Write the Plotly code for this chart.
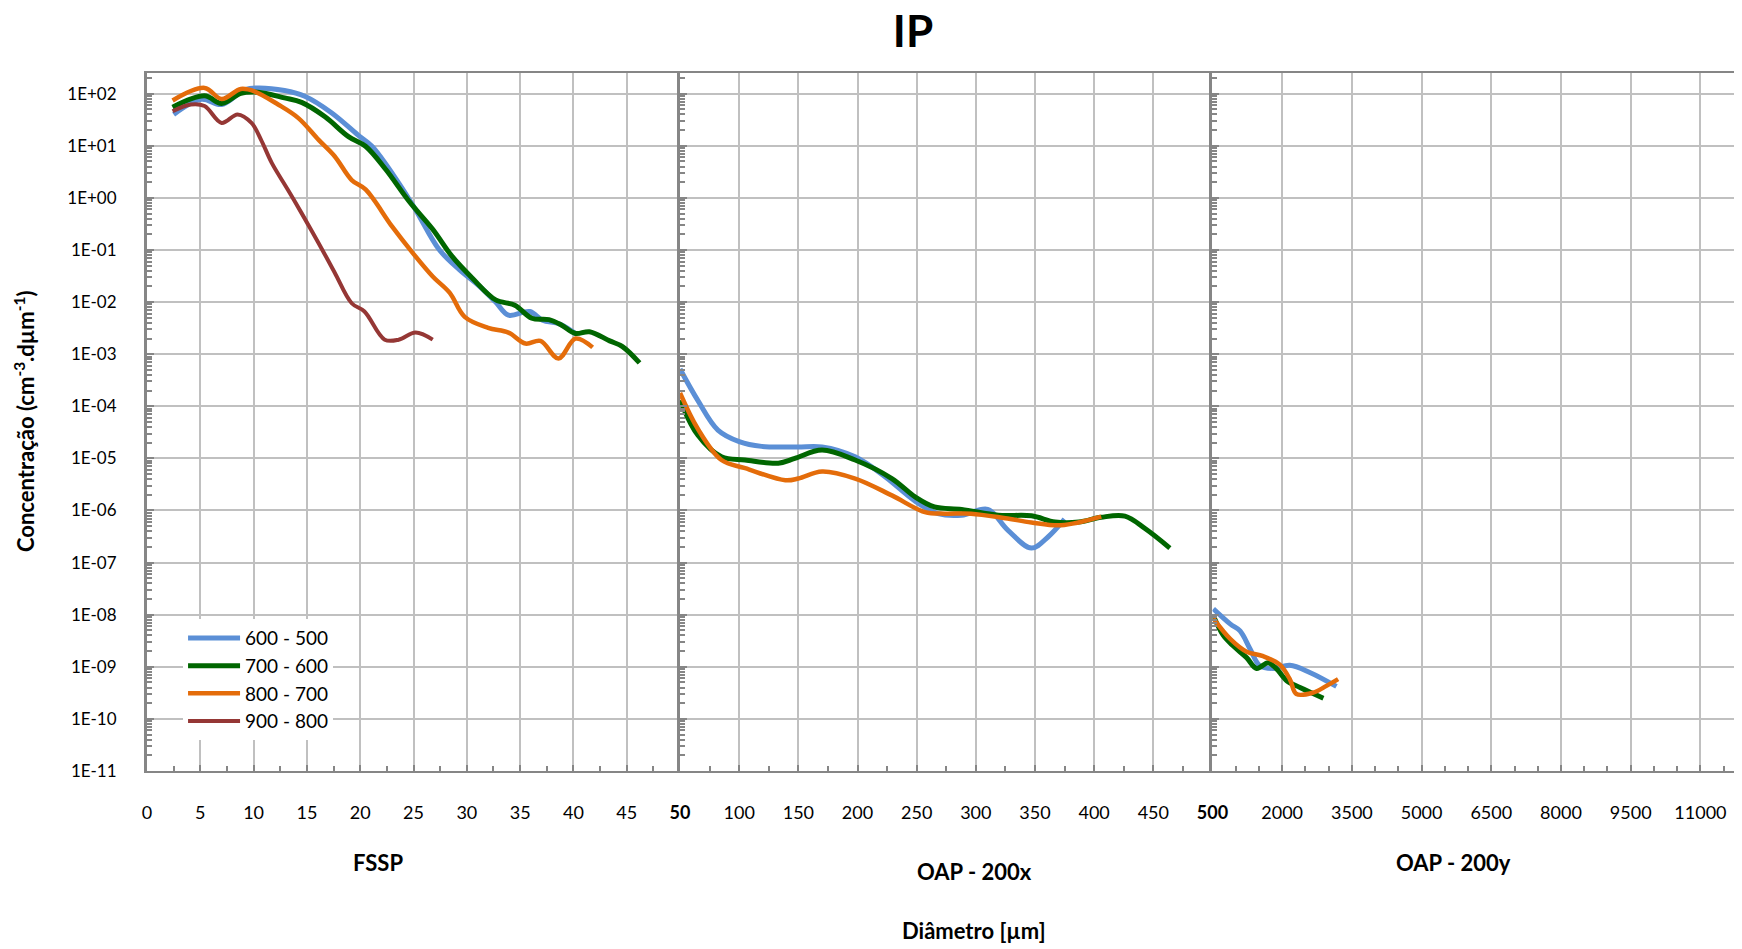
import plotly.graph_objects as go

# ---- data (diameter in um, concentration in cm-3.dum-1) ----
series_names = ["600 - 500", "700 - 600", "800 - 700", "900 - 800"]
series_colors = ["#5B8FD6", "#006600", "#E46C0A", "#953735"]
series_widths = [5, 5, 4.5, 4]

# FSSP panel (0 - 50 um)
fssp_d_600 = [2.5, 5.1, 7.0, 9.2, 10.4, 12.9, 14.8, 17.3, 19.8, 21.1, 23.6, 25.2, 27.4, 29.3, 31.2, 32.7, 33.9, 35.9, 37.1, 38.7, 40.3]
fssp_c_600 = [4.0e1, 7.8e1, 6.2e1, 1.2e2, 1.29e2, 1.15e2, 8.9e1, 4.3e1, 1.6e1, 9.8e0, 1.95e0, 5.9e-1, 1.02e-1, 4.2e-2, 2.0e-2, 1.0e-2, 5.6e-3, 6.6e-3, 4.5e-3, 3.8e-3, 2.4e-3]
fssp_d_700 = [2.4, 5.4, 7.0, 8.8, 10.4, 12.9, 14.5, 16.7, 18.9, 20.5, 22.4, 24.6, 26.8, 28.6, 30.5, 32.7, 34.5, 36.1, 37.7, 38.9, 40.2, 41.5, 43.4, 44.6, 46.2]
fssp_c_700 = [5.5e1, 9.1e1, 6.5e1, 1.02e2, 1.07e2, 8.3e1, 6.8e1, 3.6e1, 1.5e1, 9.8e0, 3.5e0, 8.5e-1, 2.5e-1, 7.6e-2, 2.9e-2, 1.1e-2, 8.7e-3, 4.9e-3, 4.6e-3, 3.6e-3, 2.5e-3, 2.7e-3, 1.8e-3, 1.4e-3, 6.8e-4]
fssp_d_800 = [2.4, 5.4, 7.0, 8.8, 10.1, 12.3, 14.2, 16.1, 17.6, 19.2, 20.5, 23.0, 24.9, 26.8, 28.4, 29.8, 32.0, 33.9, 35.5, 36.9, 38.6, 40.2, 41.8]
fssp_c_800 = [7.4e1, 1.29e2, 7.9e1, 1.23e2, 1.1e2, 6.2e1, 3.4e1, 1.3e1, 6.3e0, 2.2e0, 1.45e0, 2.8e-1, 8.9e-2, 3.1e-2, 1.5e-2, 5.2e-3, 3.2e-3, 2.6e-3, 1.6e-3, 1.8e-3, 8.3e-4, 2.0e-3, 1.35e-3]
fssp_d_900 = [2.4, 4.1, 5.4, 7.0, 8.5, 9.8, 10.7, 11.7, 13.2, 14.5, 16.1, 17.6, 19.2, 20.4, 22.3, 23.6, 25.2, 26.8]
fssp_c_900 = [4.6e1, 6.2e1, 5.8e1, 2.75e1, 4.0e1, 2.75e1, 1.3e1, 4.7e0, 1.45e0, 5.1e-1, 1.35e-1, 3.7e-2, 9.5e-3, 6.6e-3, 1.9e-3, 1.9e-3, 2.6e-3, 1.9e-3]

# OAP-200x panel (50 - 500 um)
oapx_d_600 = [50, 65, 82, 100, 119, 149, 170, 198, 223, 249, 268, 288, 310, 327, 347, 361, 375]
oapx_c_600 = [5.2e-4, 1.3e-4, 3.5e-5, 2.1e-5, 1.7e-5, 1.66e-5, 1.66e-5, 1.07e-5, 4.5e-6, 1.5e-6, 8.7e-7, 8.1e-7, 1.05e-6, 4.2e-7, 1.9e-7, 3.1e-7, 6.8e-7]
oapx_d_700 = [50, 65, 85, 105, 133, 147, 170, 198, 229, 249, 265, 288, 319, 347, 367, 387, 406, 426, 443, 464]
oapx_c_700 = [1.3e-4, 2.8e-5, 1.07e-5, 9.3e-6, 8.1e-6, 1.0e-5, 1.45e-5, 9.3e-6, 4.1e-6, 1.8e-6, 1.17e-6, 1.05e-6, 8.1e-7, 7.9e-7, 6.0e-7, 6.0e-7, 7.4e-7, 7.8e-7, 4.5e-7, 1.9e-7]
oapx_d_800 = [50, 65, 85, 105, 139, 150, 170, 198, 229, 257, 274, 296, 325, 347, 372, 406]
oapx_c_800 = [1.8e-4, 3.7e-5, 9.3e-6, 6.5e-6, 3.8e-6, 4.1e-6, 5.6e-6, 4.1e-6, 1.95e-6, 9.3e-7, 8.7e-7, 8.7e-7, 7.1e-7, 5.9e-7, 5.2e-7, 7.6e-7]

# OAP-200y panel (500 um and up)
oapy_d_600 = [518, 887, 1094, 1310, 1518, 1805, 2164, 2595, 3168]
oapy_c_600 = [1.3e-8, 6.6e-9, 4.9e-9, 2.2e-9, 1.05e-9, 9.3e-10, 1.07e-9, 7.8e-10, 4.2e-10]
oapy_d_700 = [518, 734, 950, 1235, 1450, 1701, 1880, 2098, 2384, 2887]
oapy_c_700 = [9.5e-9, 4.0e-9, 2.5e-9, 1.5e-9, 9.3e-10, 1.2e-9, 9.1e-10, 5.4e-10, 4.0e-10, 2.5e-10]
oapy_d_800 = [518, 887, 1235, 1590, 1950, 2164, 2307, 2666, 2953, 3204]
oapy_c_800 = [8.5e-9, 3.4e-9, 1.95e-9, 1.6e-9, 1.1e-9, 5.8e-10, 3.0e-10, 3.2e-10, 4.3e-10, 5.8e-10]

y_tick_vals = [1e2, 1e1, 1e0, 1e-1, 1e-2, 1e-3, 1e-4, 1e-5, 1e-6, 1e-7, 1e-8, 1e-9, 1e-10, 1e-11]
y_tick_text = ["1E+02", "1E+01", "1E+00", "1E-01", "1E-02", "1E-03", "1E-04", "1E-05",
               "1E-06", "1E-07", "1E-08", "1E-09", "1E-10", "1E-11"]

fssp_ticks = [0, 5, 10, 15, 20, 25, 30, 35, 40, 45]
oapx_ticks = [50, 100, 150, 200, 250, 300, 350, 400, 450]
oapy_ticks = [500, 2000, 3500, 5000, 6500, 8000, 9500, 11000]

FONT = "Candara, Lato, 'Open Sans', sans-serif"
AXIS_GREY = "#868686"
GRID_GREY = "#c0c0c0"

# the page body adds an 8 px margin, so the figure is laid out 8 px smaller
W, H = 1734, 941
ML, MT, MB = 139, 65, 178
PLOT_W = W - ML

panels = [
    ("x", "y", [(fssp_d_600, fssp_c_600), (fssp_d_700, fssp_c_700), (fssp_d_800, fssp_c_800), (fssp_d_900, fssp_c_900)]),
    ("x2", "y2", [(oapx_d_600, oapx_c_600), (oapx_d_700, oapx_c_700), (oapx_d_800, oapx_c_800)]),
    ("x3", "y3", [(oapy_d_600, oapy_c_600), (oapy_d_700, oapy_c_700), (oapy_d_800, oapy_c_800)]),
]

fig = go.Figure()
for p, (xa, ya, curves) in enumerate(panels):
    for i, (d, c) in enumerate(curves):
        fig.add_trace(go.Scatter(
            x=d, y=c, xaxis=xa, yaxis=ya, mode="lines",
            name=series_names[i], legendgroup=series_names[i], showlegend=(p == 0),
            line=dict(color=series_colors[i], width=series_widths[i], shape="spline", smoothing=1.0),
        ))

# minor tick positions on the log axis (2..9 of each decade)
y_minor = [k * 10.0 ** n for n in range(-11, 3) for k in range(2, 10)]


def yaxis_style(anchor, labels):
    return dict(
        type="log", anchor=anchor, range=[-11, 2.397], domain=[0, 1],
        tickvals=y_tick_vals, ticktext=y_tick_text, showticklabels=labels,
        ticks="inside", ticklen=7, tickwidth=2, tickcolor=AXIS_GREY,
        minor=dict(tickvals=y_minor, ticks="inside", ticklen=5, tickwidth=1.5, tickcolor=AXIS_GREY, showgrid=False),
        showline=True, linecolor=AXIS_GREY, linewidth=3,
        showgrid=True, gridcolor=GRID_GREY, gridwidth=2, zeroline=False,
        tickfont=dict(family=FONT, size=17, color="#000000"), ticklabelstandoff=24,
    )


def xaxis_style(anchor, domain, rng, vals, text, minor_dtick):
    return dict(
        anchor=anchor, domain=domain, range=rng,
        tickvals=vals, ticktext=text,
        ticks="inside", ticklen=6, tickwidth=2, tickcolor=AXIS_GREY,
        minor=dict(dtick=minor_dtick, ticks="inside", ticklen=5, tickwidth=1.5, tickcolor=AXIS_GREY, showgrid=False),
        showline=True, linecolor=AXIS_GREY, linewidth=2, mirror=True,
        showgrid=True, gridcolor=GRID_GREY, gridwidth=2, zeroline=False,
        tickfont=dict(family=FONT, size=18, color="#000000"), ticklabelstandoff=24,
    )


def label(text, x, y, size=22):
    return dict(text=text, x=x, y=y, xref="paper", yref="paper", showarrow=False,
                xanchor="center", yanchor="middle", font=dict(family=FONT, size=size, color="#000000"))


fig.update_layout(
    width=W, height=H,
    margin=dict(l=ML, r=0, t=MT, b=MB),
    paper_bgcolor="white", plot_bgcolor="white",
    font=dict(family=FONT, color="#000000"),
    title=dict(text="<b>IP</b>", x=905 / W, y=1 - 24 / H, xanchor="center", yanchor="middle",
               font=dict(family=FONT, size=44, color="#000000")),
    xaxis=xaxis_style("y", [0, 0.3342], [0, 50], fssp_ticks, [str(v) for v in fssp_ticks], 2.5),
    xaxis2=xaxis_style("y2", [0.3342, 0.668], [50, 500], oapx_ticks,
                       ["<b>50</b>"] + [str(v) for v in oapx_ticks[1:]], 25),
    xaxis3=xaxis_style("y3", [0.668, 1.0], [500, 11895], oapy_ticks,
                       ["<b>500</b>"] + [str(v) for v in oapy_ticks[1:]], 500),
    yaxis=yaxis_style("x", True),
    yaxis2=yaxis_style("x2", False),
    yaxis3=yaxis_style("x3", False),
    legend=dict(x=0.0226, y=0.2176, xanchor="left", yanchor="top", bgcolor="white",
                font=dict(family=FONT, size=19, color="#000000"), itemwidth=52, tracegroupgap=0),
    annotations=[
        label("<b>FSSP</b>", 0.1448, -0.1318),
        label("<b>OAP - 200x</b>", 0.519, -0.1433),
        label("<b>OAP - 200y</b>", 0.8194, -0.1318),
        label("<b>Diâmetro [µm]</b>", 0.5185, -0.2292),
        dict(text="<b>Concentração (cm<sup>-3</sup>.dµm<sup>-1</sup>)</b>", x=(16 - ML) / PLOT_W, y=0.5,
             xref="paper", yref="paper", showarrow=False, textangle=-90,
             xanchor="center", yanchor="middle", font=dict(family=FONT, size=22, color="#000000")),
    ],
)

fig.write_html("out.html")
